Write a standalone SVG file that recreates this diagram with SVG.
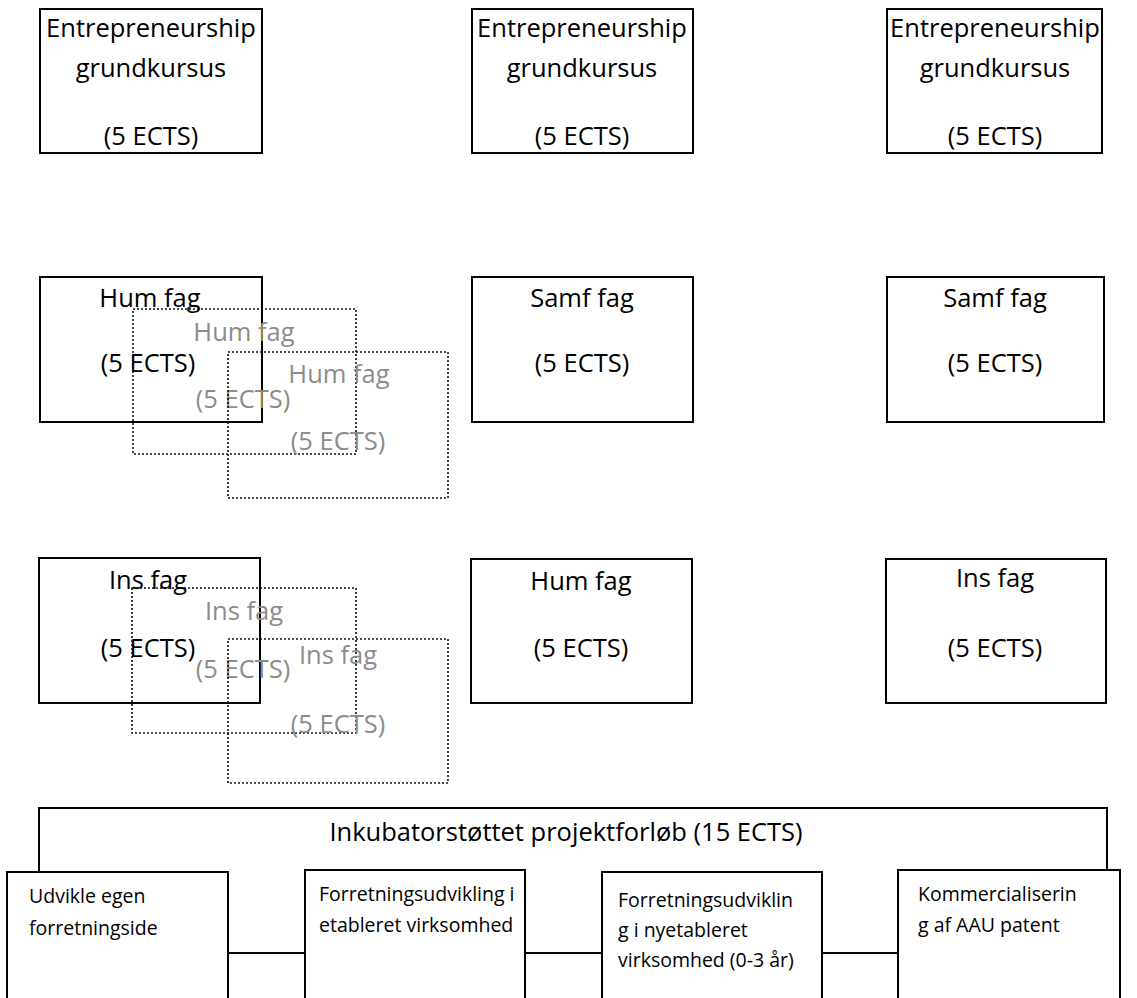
<svg xmlns="http://www.w3.org/2000/svg" width="1137" height="998" viewBox="0 0 1137 998">
<style>
.box{fill:none;stroke:#000;stroke-width:2}
.wbox{fill:#fff;stroke:#000;stroke-width:2}
.dot{fill:none;stroke:#111;stroke-width:1.6;stroke-dasharray:2 2}
.t{font-family:"Open Sans","Liberation Sans",sans-serif;font-size:25.5px;fill:#000;text-anchor:middle}
.g{font-family:"Open Sans","Liberation Sans",sans-serif;font-size:25.5px;fill:#8c8c8c;text-anchor:middle}
.s{font-family:"Open Sans","Liberation Sans",sans-serif;font-size:19.5px;fill:#000}
.h{font-family:"Open Sans","Liberation Sans",sans-serif;font-size:25.5px;fill:#000;text-anchor:middle}
.c{fill:none;stroke:#000;stroke-width:2}
</style>
<rect width="1137" height="998" fill="#fff"/>

<g id="entre1"><rect class="box" x="40" y="9" width="222" height="144"/>
<text class="t" x="151" y="37">Entrepreneurship</text><text class="t" x="151" y="77">grundkursus</text><text class="t" x="151" y="145">(5 ECTS)</text></g>
<g id="entre2"><rect class="box" x="472" y="9" width="221" height="144"/>
<text class="t" x="582" y="37">Entrepreneurship</text><text class="t" x="582" y="77">grundkursus</text><text class="t" x="582" y="145">(5 ECTS)</text></g>
<g id="entre3"><rect class="box" x="887" y="9" width="215" height="144"/>
<text class="t" x="995" y="37">Entrepreneurship</text><text class="t" x="995" y="77">grundkursus</text><text class="t" x="995" y="145">(5 ECTS)</text></g>

<g id="hum1"><rect class="box" x="40" y="277" width="222" height="145"/>
<text class="t" x="150" y="307">Hum fag</text><text class="t" x="148" y="372">(5 ECTS)</text></g>
<g id="hum1b"><rect class="dot" x="133" y="309" width="223" height="145"/>
<text class="g" x="244" y="341">Hum fag</text><text class="g" x="243" y="408">(5 ECTS)</text></g>
<g id="hum1c"><rect class="dot" x="228" y="352" width="220" height="146"/>
<text class="g" x="339" y="383">Hum fag</text><text class="g" x="338" y="450">(5 ECTS)</text></g>
<g id="samf2"><rect class="box" x="472" y="277" width="221" height="145"/>
<text class="t" x="582" y="307">Samf fag</text><text class="t" x="582" y="372">(5 ECTS)</text></g>
<g id="samf3"><rect class="box" x="887" y="277" width="217" height="145"/>
<text class="t" x="995" y="307">Samf fag</text><text class="t" x="995" y="372">(5 ECTS)</text></g>

<g id="ins1"><rect class="box" x="39" y="558" width="221" height="145"/>
<text class="t" x="148" y="589">Ins fag</text><text class="t" x="148" y="657">(5 ECTS)</text></g>
<g id="ins1b"><rect class="dot" x="132" y="588" width="224" height="145"/>
<text class="g" x="244" y="620">Ins fag</text><text class="g" x="243" y="678">(5 ECTS)</text></g>
<g id="ins1c"><rect class="dot" x="228" y="639" width="220" height="144"/>
<text class="g" x="338" y="664">Ins fag</text><text class="g" x="338" y="733">(5 ECTS)</text></g>
<g id="hum2"><rect class="box" x="471" y="559" width="221" height="144"/>
<text class="t" x="581" y="590">Hum fag</text><text class="t" x="581" y="657">(5 ECTS)</text></g>
<g id="ins3"><rect class="box" x="886" y="559" width="220" height="144"/>
<text class="t" x="995" y="587">Ins fag</text><text class="t" x="995" y="657">(5 ECTS)</text></g>

<g id="projekt"><path class="c" d="M39,872 V808 H1107 V870"/>
<text class="h" x="566" y="841">Inkubatorstøttet projektforløb (15 ECTS)</text></g>

<g id="connectors">
<line class="c" x1="228" y1="953" x2="305" y2="953"/>
<line class="c" x1="525" y1="953" x2="602" y2="953"/>
<line class="c" x1="822" y1="953" x2="898" y2="953"/>
</g>

<g id="udvikle"><rect class="wbox" x="7" y="872" width="221" height="140"/>
<text class="s" x="29" y="903">Udvikle egen</text><text class="s" x="29" y="935">forretningside</text></g>
<g id="etableret"><rect class="wbox" x="305" y="870" width="220" height="142"/>
<text class="s" x="319" y="901">Forretningsudvikling i</text><text class="s" x="319" y="932">etableret virksomhed</text></g>
<g id="nyetableret"><rect class="wbox" x="602" y="872" width="220" height="140"/>
<text class="s" x="618" y="907">Forretningsudviklin</text><text class="s" x="618" y="937">g i nyetableret</text><text class="s" x="618" y="967">virksomhed (0-3 år)</text></g>
<g id="patent"><rect class="wbox" x="898" y="870" width="222" height="142"/>
<text class="s" x="918" y="901">Kommercialiserin</text><text class="s" x="918" y="932">g af AAU patent</text></g>
</svg>
